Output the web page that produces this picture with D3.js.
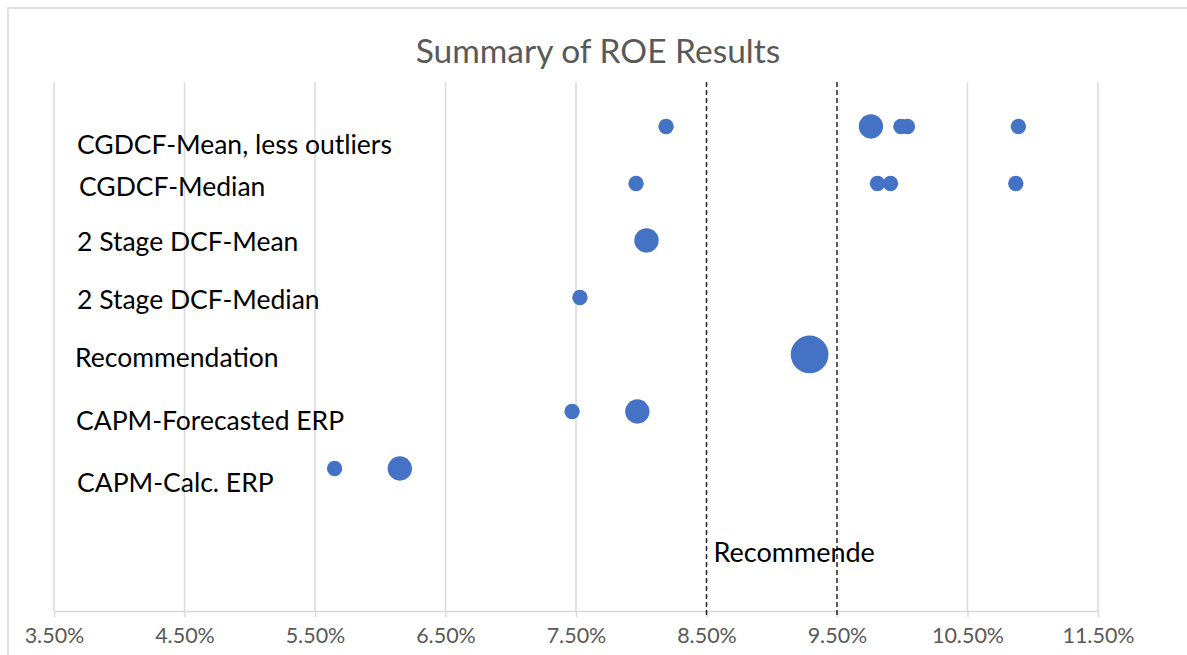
<!DOCTYPE html>
<html>
<head>
<meta charset="utf-8">
<script src="https://cdn.jsdelivr.net/npm/d3@7"></script>
<style>
  html, body { margin: 0; padding: 0; background: #fff; }
  svg { display: block; }
</style>
</head>
<body>
<svg id="chart" width="1187" height="655"></svg>
<script>
// ---- data ----
const title = "Summary of ROE Results";
const categories = [
  "CGDCF-Mean, less outliers",
  "CGDCF-Median",
  "2 Stage DCF-Mean",
  "2 Stage DCF-Median",
  "Recommendation",
  "CAPM-Forecasted ERP",
  "CAPM-Calc. ERP"
];
const categoryY = [8.5, 7.5, 6.5, 5.5, 4.5, 3.5, 2.5];
// each point: [category index, ROE %, bubble size]
const pointCat  = [0, 0, 0, 0, 0, 1, 1, 1, 1, 2, 3, 4, 5, 5, 6, 6];
const pointRoe  = [8.19, 9.76, 9.99, 10.04, 10.89, 7.96, 9.81, 9.91, 10.87, 8.04, 7.53, 9.29, 7.47, 7.97, 5.65, 6.15];
const pointSize = [1, 2.5, 1, 1, 1, 1, 1, 1, 1, 2.5, 1, 6, 1, 2.5, 1, 2.5];
const xTicks = [3.5, 4.5, 5.5, 6.5, 7.5, 8.5, 9.5, 10.5, 11.5];
const rangeLines = [8.5, 9.5];
const rangeLabel = "Recommende";

// ---- layout ----
const svg = d3.select("#chart");
const x = d3.scaleLinear().domain([3.5, 11.5]).range([54, 1098]);
const y = d3.scaleLinear().domain([0, 9.28]).range([611, 82]);
const r = d3.scaleSqrt().domain([0, 1]).range([0, 7.7]);
const labelX  = [77, 79, 77, 77, 75, 76, 77];
const labelDy = [18, 3, 1, 2, 3, 9, 14];
const FONT = "Lato, 'Open Sans', sans-serif";

// chart border
svg.append("rect").attr("x", 8).attr("y", 8).attr("width", 1190).attr("height", 660)
  .attr("fill", "none").attr("stroke", "#d9d9d9").attr("stroke-width", 1.5);

// title
svg.append("text").attr("x", 598).attr("y", 50)
  .attr("text-anchor", "middle").attr("dominant-baseline", "central")
  .attr("font-family", FONT).attr("font-size", 33.5)
  .attr("fill", "#595959").text(title);

// gridlines
svg.append("g").selectAll("line").data(xTicks.filter(t => !rangeLines.includes(t)))
  .join("line")
  .attr("x1", d => x(d)).attr("x2", d => x(d))
  .attr("y1", y(9.28)).attr("y2", y(0))
  .attr("stroke", "#d9d9d9").attr("stroke-width", 1.5);

// x axis
const xAxis = d3.axisBottom(x).tickValues(xTicks)
  .tickFormat(d => d.toFixed(2) + "%").tickSize(6).tickPadding(11).tickSizeOuter(0);
const ax = svg.append("g").attr("transform", `translate(0,${y(0)})`).call(xAxis);
ax.select(".domain").attr("stroke", "#d9d9d9").attr("stroke-width", 1.5);
ax.selectAll(".tick line").attr("stroke", "#d9d9d9").attr("stroke-width", 1.5);
ax.selectAll(".tick text")
  .attr("font-family", FONT).attr("font-size", 21.5)
  .attr("fill", "#595959");

// dashed range lines
svg.append("g").selectAll("line").data(rangeLines).join("line")
  .attr("x1", d => x(d)).attr("x2", d => x(d))
  .attr("y1", y(9.28)).attr("y2", y(0) + 6)
  .attr("stroke", "#222").attr("stroke-width", 1.5)
  .attr("stroke-dasharray", "5,3");

svg.append("text").attr("x", x(rangeLines[0]) + 7).attr("y", y(1.05))
  .attr("dominant-baseline", "central")
  .attr("font-family", FONT).attr("font-size", 27)
  .attr("fill", "#000").text(rangeLabel);

// category labels
svg.append("g").selectAll("text").data(categories).join("text")
  .attr("x", (d, i) => labelX[i])
  .attr("y", (d, i) => y(categoryY[i]) + labelDy[i])
  .attr("dominant-baseline", "central")
  .attr("font-family", FONT).attr("font-size", 26.5)
  .attr("fill", "#000").text(d => d);

// bubbles
svg.append("g").selectAll("circle").data(pointRoe).join("circle")
  .attr("cx", d => x(d))
  .attr("cy", (d, i) => y(categoryY[pointCat[i]]))
  .attr("r", (d, i) => r(pointSize[i]))
  .attr("fill", "#4472c4");
</script>
</body>
</html>
